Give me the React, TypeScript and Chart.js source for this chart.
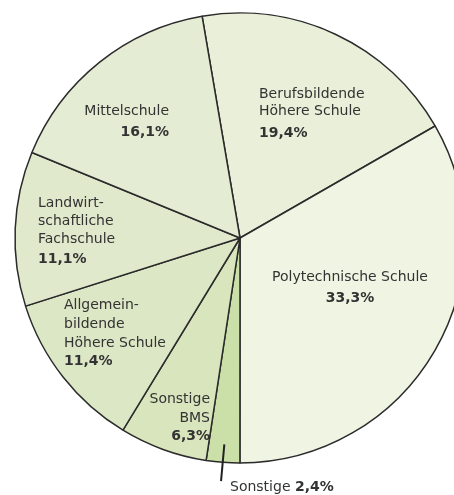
import React, { useEffect, useRef } from "react";
import { Chart, registerables } from "chart.js";

Chart.register(...registerables);

const categories = [
  "Berufsbildende Höhere Schule",
  "Polytechnische Schule",
  "Sonstige",
  "Sonstige BMS",
  "Allgemeinbildende Höhere Schule",
  "Landwirtschaftliche Fachschule",
  "Mittelschule",
];
const labelLines = [
  ["Berufsbildende", "Höhere Schule"],
  ["Polytechnische Schule"],
  ["Sonstige"],
  ["Sonstige", "BMS"],
  ["Allgemein-", "bildende", "Höhere Schule"],
  ["Landwirt-", "schaftliche", "Fachschule"],
  ["Mittelschule"],
];
const values = [19.4, 33.3, 2.4, 6.3, 11.4, 11.1, 16.1];
const percentLabels = ["19,4%", "33,3%", "2,4%", "6,3%", "11,4%", "11,1%", "16,1%"];
const colors = ["#e9efd8", "#eff4e3", "#cbdfa8", "#d8e5bd", "#dce7c5", "#e0e9cc", "#e4ecd3"];

// label layout (relative to pie centre, in px at radius 225)
const layout = [
  { dx: 19, ys: [-144, -126.5], py: -105, align: "left" },
  { dx: 110, ys: [39], py: 60, align: "center" },
  null,
  { dx: -30, ys: [161, 180.5], py: 198.5, align: "right" },
  { dx: -176, ys: [67.7, 86, 105.5], py: 123.7, align: "left" },
  { dx: -202, ys: [-35, -17, 1], py: 21.5, align: "left" },
  { dx: -71, ys: [-126.5], py: -105.5, align: "right" },
];

const FONT = '"DejaVu Sans", sans-serif';
const TEXT = "#333333";

const labelPlugin = {
  id: "pieLabels",
  afterDatasetsDraw(chart: any) {
    const meta = chart.getDatasetMeta(0);
    const arc0 = meta.data[0];
    const cx = arc0.x;
    const cy = arc0.y;
    const ctx = chart.ctx;
    ctx.save();
    ctx.fillStyle = TEXT;
    ctx.textBaseline = "middle";
    layout.forEach((l, i) => {
      if (!l) return;
      ctx.textAlign = l.align;
      ctx.font = "14px " + FONT;
      labelLines[i].forEach((line, j) => {
        ctx.fillText(line, cx + l.dx, cy + l.ys[j]);
      });
      ctx.font = "bold 14px " + FONT;
      ctx.fillText(percentLabels[i], cx + l.dx, cy + l.py);
    });
    // Sonstige small slice: leader line + external label
    const a = meta.data[2];
    const mid = (a.startAngle + a.endAngle) / 2;
    const r = a.outerRadius;
    ctx.strokeStyle = "#222";
    ctx.lineWidth = 2;
    ctx.beginPath();
    ctx.moveTo(a.x + Math.cos(mid) * (r - 18), a.y + Math.sin(mid) * (r - 18));
    ctx.lineTo(a.x + Math.cos(mid) * (r - 18) - 3.3, a.y + Math.sin(mid) * (r - 18) + 36.7);
    ctx.stroke();
    ctx.textAlign = "left";
    ctx.font = "14px " + FONT;
    const t1 = labelLines[2][0] + " ";
    const x0 = cx - 10;
    const y0 = cy + 249;
    ctx.fillText(t1, x0, y0);
    const w = ctx.measureText(t1).width;
    ctx.font = "bold 14px " + FONT;
    ctx.fillText(percentLabels[2], x0 + w, y0);
    ctx.restore();
  },
};

export default function App() {
  const ref = useRef<HTMLCanvasElement>(null);
  useEffect(() => {
    const chart = new Chart(ref.current!, {
      type: "pie",
      data: {
        labels: categories,
        datasets: [
          {
            data: values,
            backgroundColor: colors,
            borderColor: "#2b2b2b",
            borderWidth: 1.5,
            radius: 225,
          } as any,
        ],
      },
      options: {
        responsive: false,
        animation: false,
        rotation: -9.7,
        layout: { padding: { top: 0, bottom: 19, left: 0, right: 0 } },
        plugins: {
          legend: { display: false },
          tooltip: { enabled: false },
        },
      },
      plugins: [labelPlugin],
    });
    return () => chart.destroy();
  }, []);
  return (
    <div
      style={{
        position: "fixed",
        left: 0,
        top: 0,
        width: 454,
        height: 495,
        overflow: "hidden",
        background: "#ffffff",
      }}
    >
      <canvas ref={ref} width={480} height={495} style={{ display: "block", width: 480, height: 495 }} />
    </div>
  );
}
